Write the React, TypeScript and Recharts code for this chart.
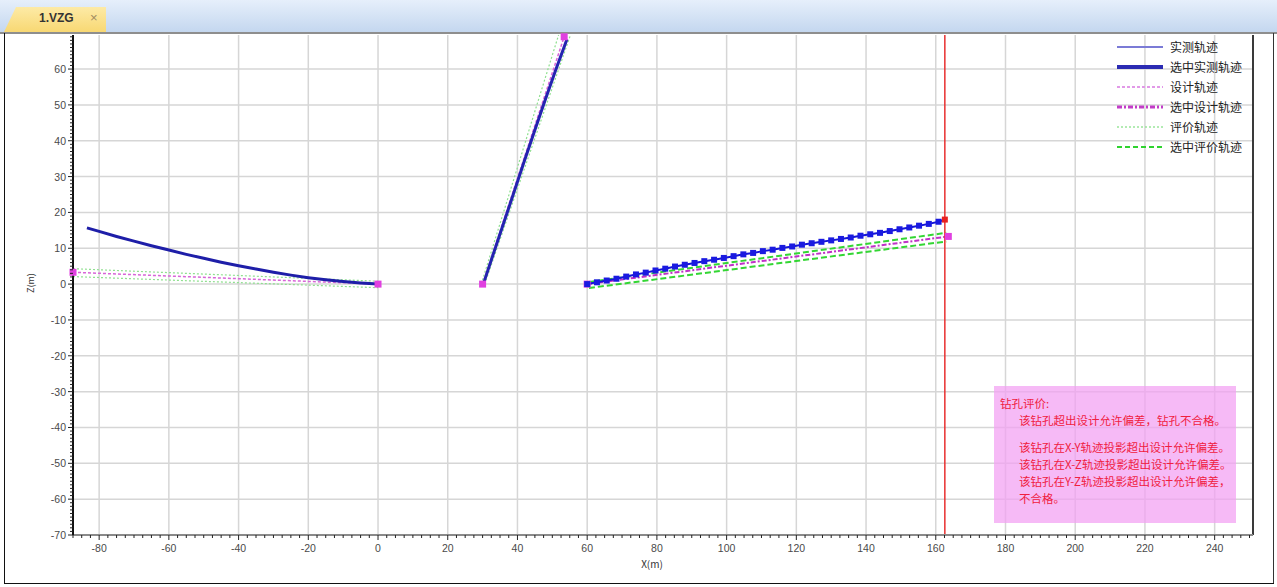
import React from 'react';
import { LineChart, Line, XAxis, YAxis, CartesianGrid, ReferenceLine } from 'recharts';

type Pt = { x: number; z: number };

const X_DOMAIN = [-87.5, 251];
const Z_DOMAIN = [-70, 69.5];
const X_MAJOR = [-80, -60, -40, -20, 0, 20, 40, 60, 80, 100, 120, 140, 160, 180, 200, 220, 240];
const Z_MAJOR = [-70, -60, -50, -40, -30, -20, -10, 0, 10, 20, 30, 40, 50, 60];
const X_MINOR = Array.from({ length: 136 }, (_, i) => -87.5 + i * 2.5);
const Z_MINOR = Array.from({ length: 140 }, (_, i) => -70 + i);

// hole 1 (left)
const leftActual: Pt[] = [
  { x: -83.5, z: 15.7 }, { x: -80, z: 14.7 }, { x: -75, z: 13.3 }, { x: -70, z: 12.0 },
  { x: -65, z: 10.7 }, { x: -60, z: 9.5 }, { x: -55, z: 8.3 }, { x: -50, z: 7.2 },
  { x: -45, z: 6.1 }, { x: -40, z: 5.1 }, { x: -35, z: 4.2 }, { x: -30, z: 3.3 },
  { x: -25, z: 2.5 }, { x: -20, z: 1.8 }, { x: -15, z: 1.2 }, { x: -10, z: 0.7 },
  { x: -5, z: 0.3 }, { x: 0, z: 0 },
];
const leftDesign: Pt[] = [{ x: -87.5, z: 3.3 }, { x: 0, z: 0 }];
const leftEvalUpper: Pt[] = [{ x: -87.5, z: 4.3 }, { x: 0, z: 0.8 }];
const leftEvalLower: Pt[] = [{ x: -87.5, z: 2.1 }, { x: 0, z: -1.0 }];

// hole 2 (middle)
const midActual: Pt[] = [
  { x: 30.2, z: 0 }, { x: 33, z: 8.2 }, { x: 36, z: 16.9 }, { x: 39, z: 25.6 },
  { x: 42, z: 34.4 }, { x: 45, z: 43.0 }, { x: 48, z: 51.5 }, { x: 51, z: 59.8 }, { x: 54.2, z: 68.3 },
];
const midDesign: Pt[] = [{ x: 30, z: 0 }, { x: 53.4, z: 69 }];
const midEvalLeft: Pt[] = [{ x: 29.6, z: 0 }, { x: 51.8, z: 69.5 }];
const midEvalRight: Pt[] = [{ x: 30.6, z: 0 }, { x: 55.2, z: 69.5 }];

// hole 3 (right, selected)
const rightActualX = [
  60, 62.8, 65.6, 68.4, 71.2, 74, 76.8, 79.6, 82.4, 85.2, 88, 90.8, 93.6, 96.4, 99.2, 102, 104.8,
  107.6, 110.4, 113.2, 116, 118.8, 121.6, 124.4, 127.2, 130, 132.8, 135.6, 138.4, 141.2, 144,
  146.8, 149.6, 152.4, 155.2, 158, 160.8, 162.6,
];
const rightActualZ = [
  0, 0.5, 1.0, 1.5, 2.1, 2.7, 3.2, 3.8, 4.3, 4.9, 5.4, 5.9, 6.4, 6.8, 7.3, 7.8, 8.3, 8.7, 9.2,
  9.6, 10.1, 10.5, 11.0, 11.4, 11.8, 12.2, 12.6, 13.0, 13.5, 13.9, 14.3, 14.8, 15.3, 15.8, 16.3,
  16.8, 17.4, 18.0,
];
const rightActual: Pt[] = rightActualX.map((x, i) => ({ x, z: rightActualZ[i] }));
const rightDesign: Pt[] = [{ x: 60, z: 0 }, { x: 163.6, z: 13.3 }];
const rightEvalUpper: Pt[] = [{ x: 60.5, z: 0.6 }, { x: 163, z: 14.3 }];
const rightEvalLower: Pt[] = [{ x: 60.5, z: -1.1 }, { x: 163, z: 11.9 }];

const LEGEND = [
  { name: '实测轨迹', color: '#7b7bd6', width: 2, dash: '' },
  { name: '选中实测轨迹', color: '#2b2bb3', width: 4, dash: '' },
  { name: '设计轨迹', color: '#e29ae8', width: 2, dash: '3 2' },
  { name: '选中设计轨迹', color: '#c23cc8', width: 3, dash: '5 2 2 2' },
  { name: '评价轨迹', color: '#9be59b', width: 1.5, dash: '2 2' },
  { name: '选中评价轨迹', color: '#2fd32f', width: 2, dash: '5 3' },
];

const NOTE_TITLE = '钻孔评价:';
const NOTE_LINES = ['该钻孔超出设计允许偏差，钻孔不合格。'];
const NOTE_DETAIL = [
  '该钻孔在X-Y轨迹投影超出设计允许偏差。',
  '该钻孔在X-Z轨迹投影超出设计允许偏差。',
  '该钻孔在Y-Z轨迹投影超出设计允许偏差，',
  '不合格。',
];

const tickFont = { fontFamily: '"Liberation Sans", Arial, sans-serif', fontSize: 10.5, fill: '#4a4a4a' };
const cjk = '"Noto Sans CJK SC", sans-serif';

function XTick(props: any) {
  const { x, y, payload } = props;
  const major = payload.value % 20 === 0;
  return (
    <g>
      <line x1={x} y1={y} x2={x} y2={y + (major ? 5 : 3)} stroke="#222" strokeWidth={1} />
      {major && (
        <text x={x} y={y + 17} textAnchor="middle" {...tickFont}>{payload.value}</text>
      )}
    </g>
  );
}

function YTick(props: any) {
  const { x, y, payload } = props;
  const major = payload.value % 10 === 0;
  return (
    <g>
      <line x1={x - (major ? 5 : 3)} y1={y} x2={x} y2={y} stroke="#222" strokeWidth={1} />
      {major && (
        <text x={x - 7} y={y + 4} textAnchor="end" {...tickFont}>{payload.value}</text>
      )}
    </g>
  );
}

const endDots = (color: string, size: number, n: number) => (p: any) => {
  if (p.index !== 0 && p.index !== n - 1) return <g key={p.index} />;
  return <rect key={p.index} x={p.cx - size / 2} y={p.cy - size / 2} width={size} height={size} fill={color} />;
};

const squareDots = (color: string, endColor: string, size: number, n: number) => (p: any) => (
  <rect key={p.index} x={p.cx - size / 2} y={p.cy - size / 2} width={size} height={size}
    fill={p.index === n - 1 ? endColor : color} />
);

export default function App() {
  const redX = rightActualX[rightActualX.length - 1];
  return (
    <div style={{ position: 'absolute', left: 0, top: 0, width: 1277, height: 587, background: '#fff', overflow: 'hidden' }}>
      {/* window chrome */}
      <div style={{ position: 'absolute', left: 0, top: 0, width: 1277, height: 32, background: 'linear-gradient(#e6effb, #c4d7ef)' }} />
      <div style={{ position: 'absolute', left: 4, top: 7, width: 102, height: 25, background: 'linear-gradient(#fdeaa6, #f8d873)', clipPath: 'polygon(12px 0, 100% 0, 100% 100%, 0 100%)' }} />
      <div style={{ position: 'absolute', left: 39, top: 11, fontFamily: '"Liberation Sans", Arial, sans-serif', fontWeight: 'bold', fontSize: 12, color: '#333' }}>1.VZG</div>
      <div style={{ position: 'absolute', left: 90, top: 10, fontFamily: '"Liberation Sans", Arial, sans-serif', fontSize: 13, color: '#a08a60' }}>×</div>
      <div style={{ position: 'absolute', left: 0, top: 32, width: 1277, height: 2, background: '#8e8e8e' }} />
      <div style={{ position: 'absolute', left: 4, top: 33, width: 1, height: 551, background: '#111' }} />
      <div style={{ position: 'absolute', left: 1273, top: 33, width: 1, height: 551, background: '#333' }} />
      <div style={{ position: 'absolute', left: 4, top: 583, width: 1270, height: 1, background: '#111' }} />

      <div style={{ position: 'absolute', left: 0, top: 0 }}>
        <LineChart width={1277} height={587} margin={{ top: 35, right: 24, bottom: 0, left: 0 }}>
          <CartesianGrid stroke="#d6d6d6" strokeWidth={1.5} horizontalValues={Z_MAJOR} verticalValues={X_MAJOR} />
          <XAxis dataKey="x" type="number" domain={X_DOMAIN} ticks={X_MINOR} interval={0} height={52}
            tickSize={0} tickMargin={0} tickLine={false} tick={<XTick />}
            axisLine={{ stroke: '#8a8a8a', strokeWidth: 2 }}
            label={{ value: 'X(m)', position: 'insideBottom', offset: 19, dx: -11, style: { fontFamily: cjk, fontSize: 10, fill: '#333' } }} />
          <YAxis dataKey="z" type="number" domain={Z_DOMAIN} ticks={Z_MINOR} interval={0} width={73}
            tickSize={0} tickMargin={0} tickLine={false} tick={<YTick />}
            axisLine={{ stroke: '#111', strokeWidth: 2 }}
            label={{ value: 'Z(m)', angle: -90, position: 'insideLeft', offset: 31, dy: -2, style: { fontFamily: cjk, fontSize: 9, fill: '#333', textAnchor: 'middle' } }} />
          <ReferenceLine x={X_DOMAIN[1]} stroke="#3a3a3a" strokeWidth={2} />

          {/* evaluation envelopes */}
          <Line data={leftEvalUpper} dataKey="z" stroke="#8fe08f" strokeWidth={1.2} strokeDasharray="2 2" dot={false} isAnimationActive={false} />
          <Line data={leftEvalLower} dataKey="z" stroke="#8fe08f" strokeWidth={1.2} strokeDasharray="2 2" dot={false} isAnimationActive={false} />
          <Line data={midEvalLeft} dataKey="z" stroke="#8fe08f" strokeWidth={1.2} strokeDasharray="2 2" dot={false} isAnimationActive={false} />
          <Line data={midEvalRight} dataKey="z" stroke="#8fe08f" strokeWidth={1.2} strokeDasharray="2 2" dot={false} isAnimationActive={false} />
          <Line data={rightEvalUpper} dataKey="z" stroke="#33d633" strokeWidth={2} strokeDasharray="6 3" dot={false} isAnimationActive={false} />
          <Line data={rightEvalLower} dataKey="z" stroke="#33d633" strokeWidth={2} strokeDasharray="6 3" dot={false} isAnimationActive={false} />

          {/* design */}
          <Line data={leftDesign} dataKey="z" stroke="#d866d8" strokeWidth={1.5} strokeDasharray="3 2" dot={endDots('#e040e0', 7, leftDesign.length)} isAnimationActive={false} />
          <Line data={midDesign} dataKey="z" stroke="#d866d8" strokeWidth={1.5} strokeDasharray="3 2" dot={endDots('#e040e0', 7, midDesign.length)} isAnimationActive={false} />
          <Line data={rightDesign} dataKey="z" stroke="#c030c8" strokeWidth={2} strokeDasharray="5 2 2 2" dot={endDots('#e040e0', 7, rightDesign.length)} isAnimationActive={false} />

          {/* actual */}
          <Line data={leftActual} dataKey="z" stroke="#1e1ea8" strokeWidth={3} dot={false} isAnimationActive={false} />
          <Line data={midActual} dataKey="z" stroke="#2424b0" strokeWidth={3} dot={false} isAnimationActive={false} />
          <Line data={rightActual} dataKey="z" stroke="#1414d8" strokeWidth={2} dot={squareDots('#1a1ae0', '#e82020', 6, rightActual.length)} isAnimationActive={false} />

          <ReferenceLine x={redX} stroke="#e83030" strokeWidth={1.5} />
        </LineChart>
      </div>

      {/* legend */}
      {LEGEND.map((item, i) => (
        <div key={item.name} style={{ position: 'absolute', left: 1116, top: 40 + i * 20, height: 14, display: 'flex', alignItems: 'center' }}>
          <svg width={48} height={14}>
            <line x1={1} y1={7} x2={47} y2={7} stroke={item.color} strokeWidth={item.width} strokeDasharray={item.dash || undefined} />
          </svg>
          <span style={{ marginLeft: 6, fontFamily: cjk, fontSize: 12, color: '#222', lineHeight: '14px' }}>{item.name}</span>
        </div>
      ))}

      {/* evaluation note */}
      <div style={{ position: 'absolute', left: 994, top: 386, width: 242, height: 137, background: 'rgba(243,160,243,0.72)', fontFamily: cjk, fontSize: 11.5, color: '#f0203f', lineHeight: '17px', whiteSpace: 'nowrap' }}>
        <div style={{ position: 'absolute', left: 6, top: 9 }}>{NOTE_TITLE}</div>
        {NOTE_LINES.map((t, i) => (
          <div key={t} style={{ position: 'absolute', left: 25, top: 26 + i * 17 }}>{t}</div>
        ))}
        {NOTE_DETAIL.map((t, i) => (
          <div key={t + i} style={{ position: 'absolute', left: 25, top: 53 + i * 17 }}>{t}</div>
        ))}
      </div>
    </div>
  );
}
